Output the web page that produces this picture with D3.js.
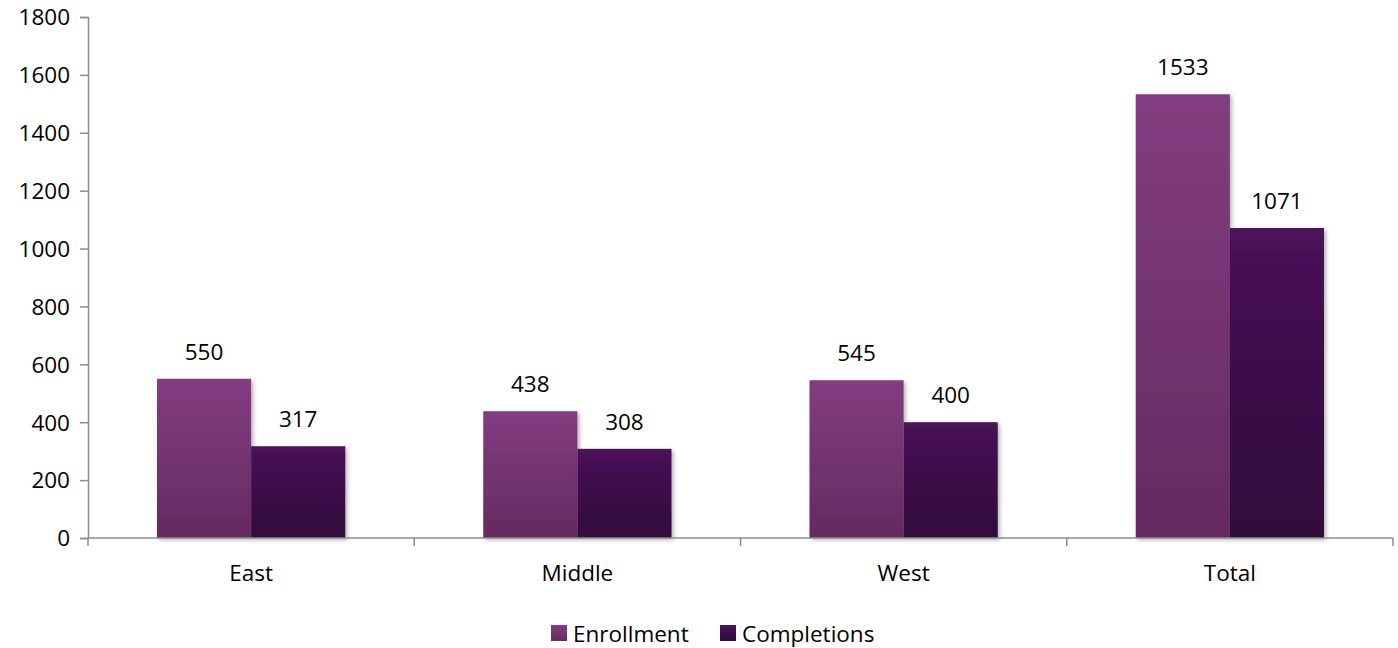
<!DOCTYPE html>
<html>
<head>
<meta charset="utf-8">
<script src="https://cdn.jsdelivr.net/npm/d3@7"></script>
<style>
  html, body { margin: 0; padding: 0; background: #fff; }
  text { font-family: "Open Sans", Lato, sans-serif; fill: #000; }
</style>
</head>
<body>
<svg id="chart" width="1398" height="648"></svg>
<script>
const categories = ["East", "Middle", "West", "Total"];
const seriesNames = ["Enrollment", "Completions"];
const enrollment = [550, 438, 545, 1533];
const completions = [317, 308, 400, 1071];
const yTicks = [0, 200, 400, 600, 800, 1000, 1200, 1400, 1600, 1800];

const svg = d3.select("#chart");
const margin = { left: 88, right: 5, top: 17, bottom: 110 };
const W = 1398, H = 648;
const FS = 22.5;

const x = d3.scaleBand().domain(categories)
  .range([margin.left, W - margin.right]).paddingInner(0.423).paddingOuter(0.2115);
const xs = d3.scaleBand().domain(seriesNames).range([0, x.bandwidth()]);
const y = d3.scaleLinear().domain([0, 1800]).range([H - margin.bottom, margin.top]);

const defs = svg.append("defs");
const grads = [
  { id: "gEnroll", top: "#823d80", bottom: "#652a60" },
  { id: "gComp", top: "#4a1259", bottom: "#2f0a3a" }
];
grads.forEach(g => {
  const lg = defs.append("linearGradient").attr("id", g.id)
    .attr("x1", 0).attr("y1", 0).attr("x2", 0).attr("y2", 1);
  lg.append("stop").attr("offset", "0%").attr("stop-color", g.top);
  lg.append("stop").attr("offset", "100%").attr("stop-color", g.bottom);
});
const shadow = defs.append("filter").attr("id", "shadow")
  .attr("x", "-10%").attr("y", "-10%").attr("width", "130%").attr("height", "130%");
shadow.append("feDropShadow").attr("dx", 2).attr("dy", 2).attr("stdDeviation", 2)
  .attr("flood-color", "#000").attr("flood-opacity", 0.3);

const fills = ["url(#gEnroll)", "url(#gComp)"];
const series = [enrollment, completions];

// bars
series.forEach((vals, si) => {
  svg.append("g").selectAll("rect").data(categories).join("rect")
    .attr("x", c => x(c) + xs(seriesNames[si]))
    .attr("y", (c, i) => y(vals[i]))
    .attr("width", xs.bandwidth())
    .attr("height", (c, i) => y(0) - y(vals[i]))
    .attr("fill", fills[si])
    .attr("filter", "url(#shadow)");
});

// value labels
series.forEach((vals, si) => {
  svg.append("g").selectAll("text").data(categories).join("text")
    .attr("x", c => x(c) + xs(seriesNames[si]) + xs.bandwidth() / 2)
    .attr("y", (c, i) => y(vals[i]) - 19)
    .attr("text-anchor", "middle")
    .attr("font-size", FS)
    .text((c, i) => vals[i]);
});

// y axis
const yAxis = svg.append("g").attr("transform", `translate(${margin.left},0)`)
  .call(d3.axisLeft(y).tickValues(yTicks).tickSize(8).tickPadding(10).tickFormat(d3.format("d")));
yAxis.selectAll("text").attr("font-size", FS).attr("dy", "0.35em");
yAxis.selectAll("line, path").attr("stroke", "#8c8c8c").attr("stroke-width", 1.5);

// x axis: line with ticks at category boundaries
const xAxisG = svg.append("g").attr("transform", `translate(0,${y(0)})`);
xAxisG.append("line").attr("x1", margin.left).attr("x2", W - margin.right)
  .attr("stroke", "#8c8c8c").attr("stroke-width", 1.5);
const step = x.step();
const bounds = categories.map(c => x(c) - x.paddingInner() * step / 2);
bounds.push(W - margin.right);
xAxisG.selectAll("line.tk").data(bounds).join("line").attr("class", "tk")
  .attr("x1", d => d).attr("x2", d => d).attr("y1", 0).attr("y2", 8)
  .attr("stroke", "#8c8c8c").attr("stroke-width", 1.5);
xAxisG.selectAll("text").data(categories).join("text")
  .attr("x", c => x(c) + x.bandwidth() / 2).attr("y", 43)
  .attr("text-anchor", "middle").attr("font-size", FS).text(c => c);

// legend
const legendItems = [
  { name: "Enrollment", fill: fills[0], x: 551 },
  { name: "Completions", fill: fills[1], x: 720 }
];
const lg = svg.append("g");
legendItems.forEach(it => {
  lg.append("rect").attr("x", it.x).attr("y", 625).attr("width", 16).attr("height", 16).attr("fill", it.fill);
  lg.append("text").attr("x", it.x + 22).attr("y", 642).attr("font-size", FS).text(it.name);
});
</script>
</body>
</html>
